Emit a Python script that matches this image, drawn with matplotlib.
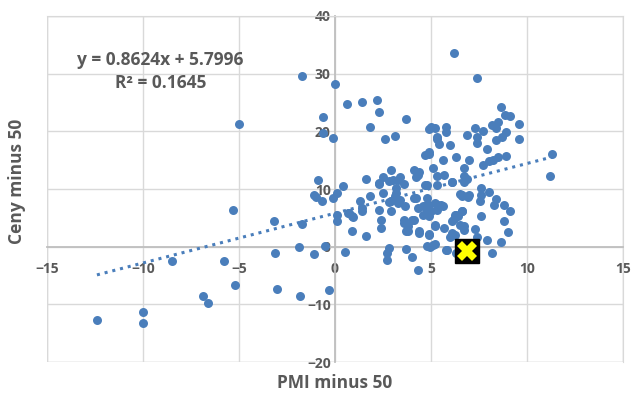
import matplotlib
matplotlib.use('Agg')
import matplotlib.pyplot as plt
import numpy as np

# PMI minus 50 vs. prices minus 50
pmi = [-12.4, -10.0, -10.0, -8.5, -6.9, -6.6, -5.8, -5.3, -5.2, -5.0, -3.2, -3.1, -3.0, -1.9, -1.8,
       -1.7, -1.7, -1.1, -0.5, -0.3, 0.5,
       0.0, 0.6, 1.4, 2.2, 2.3, -0.6, -0.6, -0.1, 1.8, 2.6, 3.1, 3.7,
       -0.9, -1.0, -0.7, -1.1, -0.1, 0.1, 0.4, 0.1, 0.1, 0.75, 0.95, 0.9, 1.6, 1.3, 1.8, 1.4, 1.6, 1.4,
       2.3, 2.4, 2.4, 2.3, 2.5, 2.9, 2.5, 2.8, 2.9, 3.3, 3.6, 3.2, 3.4, 3.65, 3.6, 3.8, 3.8, 4.4, 4.1,
       4.3, 4.2, 4.1, 4.3, 4.4, 4.2, 4.7, 4.7, 4.8, 2.8, 2.7, 2.7, 3.7, 4.0, 4.3, 3.0, 3.4, 2.3, 2.8,
       3.2, 3.1, 2.9, 3.3, 4.1, 3.6, 3.7, 4.4, 0.9, 0.7, 4.0,
       4.8, 4.9, 5.2, 5.5, 5.6, 5.3, 5.0, 4.6, 4.9, 4.8, 4.6, 5.35, 6.25, 6.6, 6.6, 4.9, 5.2, 5.7, 6.25,
       6.1, 4.9, 5.2, 6.1, 6.2, 6.3, 6.0, 5.1, 4.8, 5.8, 5.2, 5.85, 6.3, 4.95,
       6.2, 7.4, 5.3, 5.4, 6.0, 6.3, 5.6, 5.1, 4.9, 4.7, 4.9, 5.8, 5.8, 5.3, 5.0, 5.2, 4.9, 5.3, 5.7,
       6.1, 4.8, 5.3, 6.5, 7.0, 7.6,
       8.65, 8.85, 9.1, 9.6, 9.6, 8.5, 8.2, 8.4, 8.9, 8.7, 8.4, 8.9, 8.5, 8.25, 8.0, 7.7, 7.9, 7.7,
       7.4, 7.4, 7.3, 6.9, 7.0, 6.7, 6.7, 6.7, 6.9, 11.3, 11.2,
       6.95, 7.6, 7.55, 8.0, 8.3, 8.4, 8.8, 9.1, 8.8, 9.0, 8.65, 8.2, 7.9, 7.6, 7.3, 7.4, 6.7, 6.6,
       6.4, 6.5, 6.7, 6.1, 6.6, 6.95]
ceny = [-12.7, -11.4, -13.3, -2.4, -8.5, -9.8, -2.5, 6.3, -6.6, 21.3, 4.5, -1.1, -7.3, -0.1, -8.6,
        3.9, 29.6, -1.3, 0.2, -7.6, -0.9,
        28.2, 24.8, 25.0, 25.4, 23.4, 22.5, 19.7, 18.8, 20.8, 18.6, 19.2, 22.2,
        11.5, 8.6, 8.0, 9.0, 8.5, 9.3, 10.5, 5.5, 4.4, 5.8, 5.1, 2.8, 11.7, 8.0, 8.8, 6.1, 1.8, 6.7,
        6.4, 4.7, 3.2, 10.9, 12.1, 13.3, 9.3, 7.7, 6.1, 11.6, 10.9, 9.3, 8.1, 7.0, 4.7, 3.6, 2.7, 2.7, 4.7,
        6.7, 8.4, 13.3, 12.5, 13.0, 12.0, 10.7, 7.0, 5.8, -0.2, -1.1, -2.3, -0.4, -1.8, -4.0, 11.6, 12.1, 11.0, 11.4,
        10.2, 8.7, 7.9, 7.6, 8.5, 4.1, 2.7, 2.4, 5.3, 5.8, 4.6,
        8.4, 7.3, 7.6, 7.3, 7.0, 6.4, 6.1, 5.5, 5.3, 6.4, 7.0, 7.3, 5.5, 6.1, 9.0, 2.1, 3.8, 3.2, 2.1,
        4.5, 2.25, 3.5, 2.4, 4.8, 5.5, 1.6, 0.35, 0.05, -0.5, 0.5, -0.6, -1.1, -0.05,
        33.6, 29.2, 18.7, 17.8, 17.6, 15.5, 15.0, 13.6, 16.1, 15.9, 16.5, 20.8, 19.9, 19.1, 20.8, 20.6, 20.4, 12.2, 12.5,
        11.3, 10.7, 10.7, 9.2, 9.0, 10.2,
        24.2, 22.8, 22.6, 21.3, 18.7, 21.7, 21.1, 20.6, 19.8, 19.1, 18.5, 15.8, 15.6, 15.1, 14.8, 14.2, 17.0, 20.1,
        19.1, 17.9, 20.6, 19.3, 15.0, 13.7, 12.2, 11.3, 11.8, 16.1, 12.3,
        8.7, 9.0, 7.9, 9.5, 7.3, 8.3, 7.3, 6.1, 4.5, 2.5, 0.8, -1.1, 1.2, 5.3, 3.1, 1.6, 3.5, 6.1,
        5.3, 3.7, 2.9, 11.3, 8.8, 8.6]

# latest month, highlighted
latest_pmi = 6.9
latest_ceny = -0.8

# linear trend shown in the chart
slope = 0.8624
intercept = 5.7996
r2 = 0.1645

x_ticks = [-15, -10, -5, 0, 5, 10, 15]
y_ticks = [-20, -10, 0, 10, 20, 30, 40]

blue = '#4a7ebb'
grid_col = '#d9d9d9'
text_col = '#595959'
plt.rcParams['font.family'] = ['Open Sans', 'DejaVu Sans']

fig = plt.figure(figsize=(6.31, 3.94), dpi=100)
ax = fig.add_axes([0.0745, 0.0812, 0.9128, 0.8782])

ax.set_xlim(-15, 15)
ax.set_ylim(-20, 40)
ax.set_xticks(x_ticks)
ax.set_yticks(y_ticks)
ax.grid(True, color=grid_col, linewidth=1)
ax.set_axisbelow(True)

for side in ['top', 'right']:
    ax.spines[side].set_color(grid_col)
ax.spines['left'].set_position(('data', 0))
ax.spines['bottom'].set_position(('data', 0))
ax.spines['left'].set_color('#bfbfbf')
ax.spines['bottom'].set_color('#bfbfbf')
ax.spines['left'].set_linewidth(1.3)
ax.spines['bottom'].set_linewidth(1.3)
# frame of the plot area
ax.add_patch(plt.Rectangle((0, 0), 1, 1, transform=ax.transAxes, fill=False,
                           edgecolor=grid_col, linewidth=1, zorder=0))

ax.tick_params(axis='both', length=0, labelsize=10, labelcolor=text_col)
ax.tick_params(axis='x', pad=11)
ax.tick_params(axis='y', pad=3)
for lab in ax.get_xticklabels() + ax.get_yticklabels():
    lab.set_fontweight('bold')

ax.scatter(pmi, ceny, s=42, color=blue, linewidths=0, zorder=3)

xs = np.array([min(pmi), max(pmi)])
ax.plot(xs, slope * xs + intercept, linestyle=(0, (1, 1.6)), color=blue, linewidth=2.2, zorder=4)

ax.plot(latest_pmi, latest_ceny, marker='s', markersize=17, color='black', zorder=5)
ax.plot(latest_pmi, latest_ceny, marker='X', markersize=15, color='#ffff00',
        markeredgewidth=0, zorder=6)

ax.text(-9.1, 32.4, f'y = {slope}x + {intercept}', fontsize=12.5, fontweight='bold',
        color=text_col, ha='center', va='center')
ax.text(-9.1, 28.4, f'R² = {r2}', fontsize=12.5, fontweight='bold', color=text_col,
        ha='center', va='center')

fig.text(0.027, 0.54, 'Ceny minus 50', rotation=90, fontsize=12.5, fontweight='bold',
         color=text_col, ha='center', va='center')
fig.text(0.531, 0.028, 'PMI minus 50', fontsize=12.5, fontweight='bold', color=text_col,
         ha='center', va='center')

fig.savefig('out.png', dpi=100)
